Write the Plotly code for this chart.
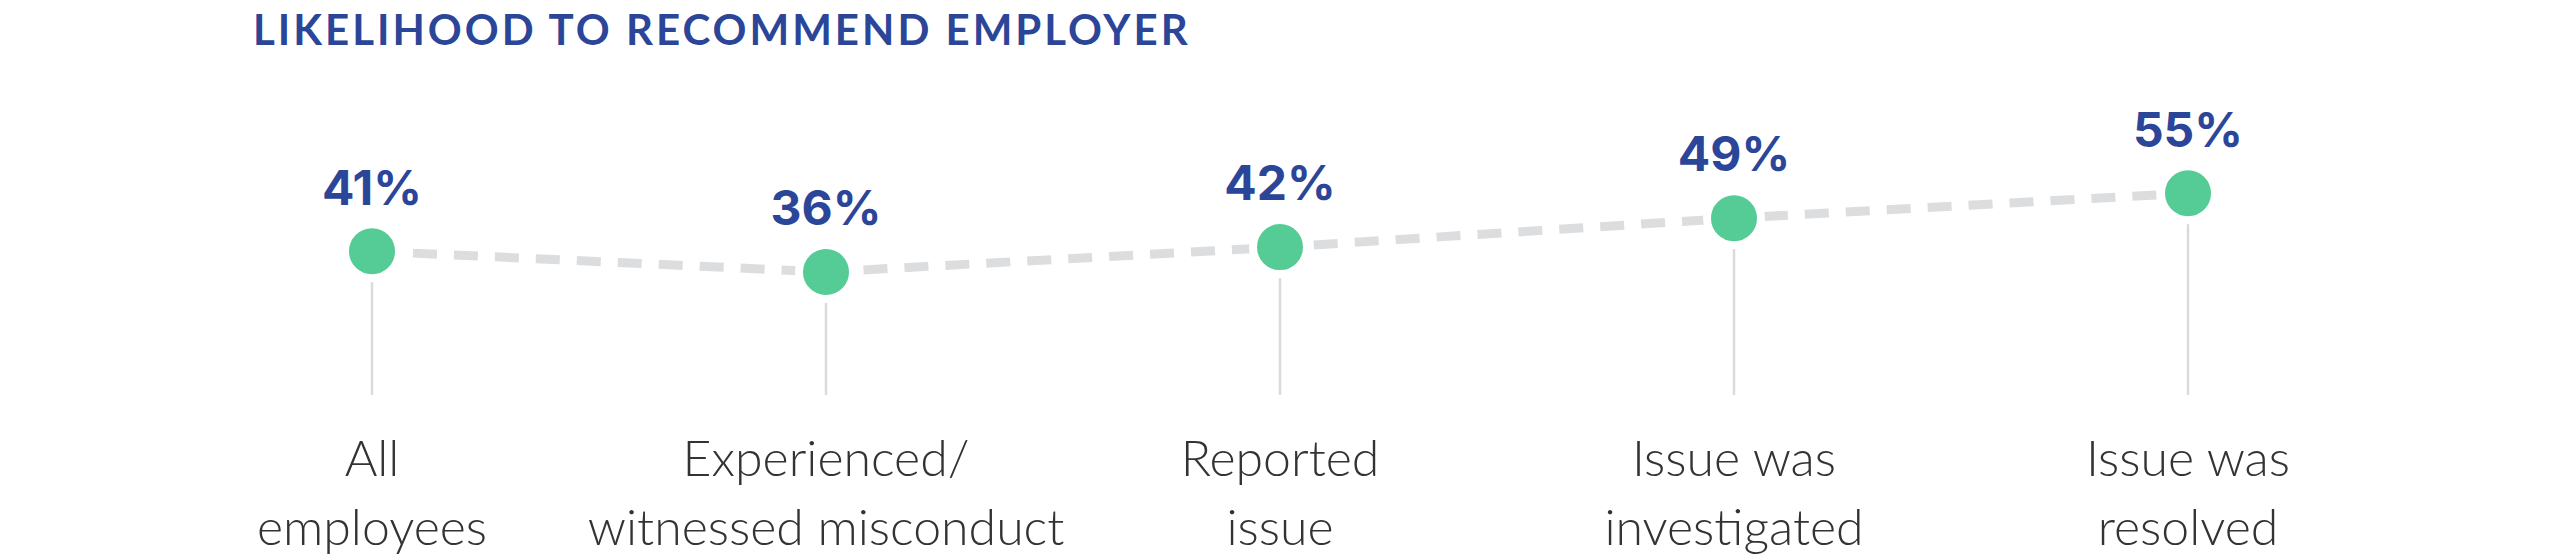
import plotly.graph_objects as go

# Likelihood to recommend employer, by group
line1 = ['All', 'Experienced/', 'Reported', 'Issue was', 'Issue was']
line2 = ['employees', 'witnessed misconduct', 'issue', 'investigated', 'resolved']
values = [41, 36, 42, 49, 55]
labels = ['41%', '36%', '42%', '49%', '55%']

BLUE = '#2b4699'
GREEN = '#55cb95'
GREY = '#dcdddf'
STEM_BASE = 6.3
PAGE_PAD = 8  # default body margin of the html page
PX_PER_PT = 4.14

x = list(range(len(line1)))

fig = go.Figure()

# thin stems under each point
for xi, v in zip(x, values):
    fig.add_trace(go.Scatter(
        x=[xi, xi], y=[STEM_BASE, v], mode='lines',
        line=dict(color='#d9dadc', width=2.5), hoverinfo='skip', showlegend=False
    ))

# dashed connector
fig.add_trace(go.Scatter(
    x=x, y=values, mode='lines',
    line=dict(color=GREY, width=9, dash='24px,17px'),
    hoverinfo='skip', showlegend=False
))

# points + value labels
fig.add_trace(go.Scatter(
    x=x, y=values, mode='markers+text',
    text=labels, textposition='top center',
    textfont=dict(family='Inter', size=48, color=BLUE, weight=700),
    marker=dict(size=54, color=GREEN, line=dict(color='white', width=8)),
    showlegend=False
))

# invisible trace so the second axis (second label line) is drawn
fig.add_trace(go.Scatter(x=x, y=values, xaxis='x2', mode='markers',
                         marker=dict(opacity=0), hoverinfo='skip', showlegend=False))

x0 = 372 - PAGE_PAD
xrange = [-x0 / 454, -x0 / 454 + 2560 / 454]
bottom = 421 - PAGE_PAD
tickfont = dict(family='Lato', size=50, color='#333333', weight=300)

fig.update_layout(
    width=2560, height=557,
    paper_bgcolor='white', plot_bgcolor='white',
    margin=dict(l=0, r=0, t=0, b=557 - bottom),
    title=dict(
        text='<span style="letter-spacing:3px">LIKELIHOOD TO RECOMMEND EMPLOYER</span>',
        x=(253 - PAGE_PAD) / 2560, xanchor='left', xref='container',
        y=1 - 8 / 557, yanchor='top', yref='container',
        font=dict(family='Lato', size=42, color=BLUE, weight=700)
    ),
    xaxis=dict(
        range=xrange, tickvals=x, ticktext=line1,
        showgrid=False, zeroline=False, showline=False, ticks='',
        ticklabelstandoff=4, tickfont=tickfont
    ),
    xaxis2=dict(
        range=xrange, tickvals=x, ticktext=line2, overlaying='x', side='bottom',
        anchor='y', showgrid=False, zeroline=False, showline=False, ticks='',
        ticklabelstandoff=73, tickfont=tickfont
    ),
    yaxis=dict(range=[0, bottom / PX_PER_PT], visible=False),
)

fig.write_html('out.html')
